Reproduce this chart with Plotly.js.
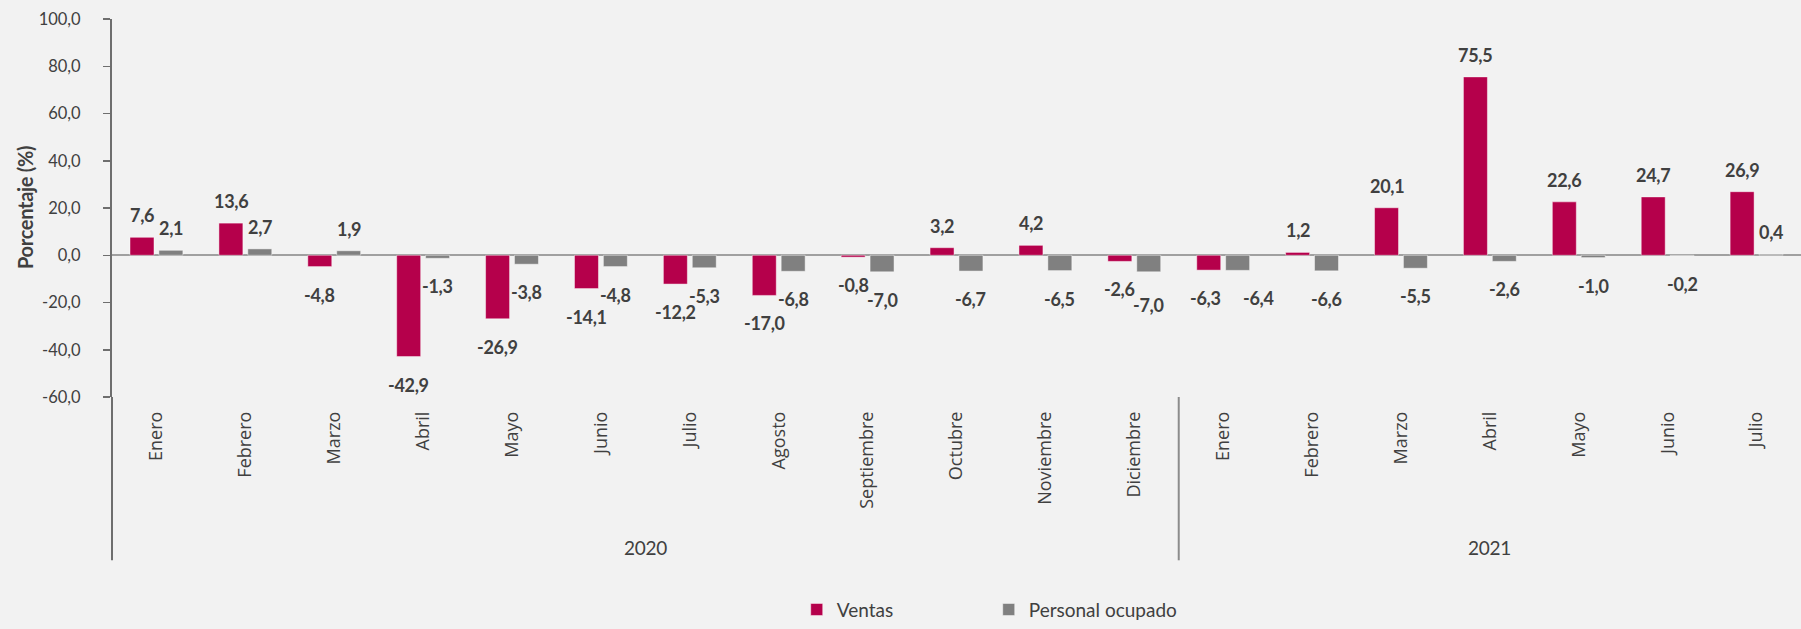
<!DOCTYPE html>
<html>
<head>
<meta charset="utf-8">
<script src="https://cdn.plot.ly/plotly-3.0.1.min.js"></script>
<style>
  html, body { margin: 0; padding: 0; background: #F2F2F2; }
  #chart { width: 1801px; height: 629px; }
  .annotation-text { letter-spacing: -0.3px; }
</style>
</head>
<body>
<div id="chart"></div>
<script>
// ---- data ----
const months = ['Enero','Febrero','Marzo','Abril','Mayo','Junio','Julio','Agosto','Septiembre','Octubre','Noviembre','Diciembre',
                'Enero','Febrero','Marzo','Abril','Mayo','Junio','Julio'];
const years = ['2020','2020','2020','2020','2020','2020','2020','2020','2020','2020','2020','2020',
               '2021','2021','2021','2021','2021','2021','2021'];
const ventas   = [7.6, 13.6, -4.8, -42.9, -26.9, -14.1, -12.2, -17.0, -0.8, 3.2, 4.2, -2.6,
                  -6.3, 1.2, 20.1, 75.5, 22.6, 24.7, 26.9];
const personal = [2.1, 2.7, 1.9, -1.3, -3.8, -4.8, -5.3, -6.8, -7.0, -6.7, -6.5, -7.0,
                  -6.4, -6.6, -5.5, -2.6, -1.0, -0.2, 0.4];
const yTicks = [-60, -40, -20, 0, 20, 40, 60, 80, 100];

// ---- helpers ----
const fmt = v => v.toFixed(1).replace('.', ',');
const idx = months.map((_, i) => i);
const n = months.length;
const BARGAP = 0.35, BARGROUPGAP = 0.17;
const off = (1 - BARGAP) / 4;
const Y_MIN = -60, Y_MAX = 100, PLOT_H = 384;
const pxPerUnit = PLOT_H / (Y_MAX - Y_MIN);

const labelFont = {family: 'Lato, sans-serif', size: 18, color: '#404040', weight: 'bold'};
const annotations = [];
function baseShift(v) { return v >= 0 ? 22 : -28; }
idx.forEach(i => {
  const a = ventas[i], b = personal[i];
  let ax = 0, bx = 0, ay = baseShift(a), by = baseShift(b);
  // keep labels of the same month readable when they would collide
  if ((a >= 0) === (b >= 0)) {
    const d = Math.abs(a - b) * pxPerUnit;
    if (d < 6) { ax = -3; bx = 21; }
    else if (d < 12) {
      if (b >= 0) { if (a > b) ay += 5; else by += 5; }
      else { if (a < b) ay -= 5; else by -= 5; }
    }
  }
  [[a, -off, ax, ay], [b, off, bx, by]].forEach(([v, dx, xs, ys]) => {
    annotations.push({
      x: i + dx, y: v, xref: 'x', yref: 'y',
      text: '<b>' + fmt(v) + '</b>', showarrow: false,
      yanchor: 'middle', xanchor: 'center',
      xshift: xs, yshift: ys, font: labelFont
    });
  });
});

// y axis title
annotations.push({
  x: (25 - 112) / 1689, y: 0.5, xref: 'paper', yref: 'paper',
  text: '<b>Porcentaje (%)</b>', textangle: -90, showarrow: false,
  xanchor: 'center', yanchor: 'middle',
  font: {family: 'Lato, sans-serif', size: 20, color: '#404040'}
});

// year group labels and dividers
const groups = [];
years.forEach((y, i) => {
  if (!groups.length || groups[groups.length - 1].year !== y) groups.push({year: y, start: i, end: i});
  else groups[groups.length - 1].end = i;
});
const shapes = [];
const dividerBottom = -0.432;
groups.forEach((g, k) => {
  annotations.push({
    x: (g.start + g.end) / 2, y: -0.398, xref: 'x', yref: 'paper',
    text: g.year, showarrow: false, yanchor: 'middle', xanchor: 'center',
    font: {family: 'Lato, sans-serif', size: 19, color: '#404040'}
  });
  shapes.push({
    type: 'line', xref: 'paper', yref: 'paper',
    x0: g.start / n, x1: g.start / n, y0: 0, y1: dividerBottom,
    line: {color: k === 0 ? '#6E6E6E' : '#8C8C8C', width: 2}
  });
});

const traces = [
  {
    type: 'bar', name: 'Ventas', x: idx, y: ventas,
    marker: {color: '#B5004B', line: {color: 'rgba(255,255,255,0.45)', width: 1}},
    hoverinfo: 'y'
  },
  {
    type: 'bar', name: 'Personal ocupado', x: idx, y: personal,
    marker: {color: '#808080', line: {color: 'rgba(255,255,255,0.45)', width: 1}},
    hoverinfo: 'y'
  }
];

const layout = {
  width: 1801, height: 629,
  paper_bgcolor: '#F2F2F2', plot_bgcolor: '#F2F2F2',
  margin: {l: 112, r: 0, t: 19, b: 226},
  barmode: 'group', bargap: BARGAP, bargroupgap: BARGROUPGAP,
  font: {family: 'Lato, sans-serif', color: '#404040'},
  xaxis: {
    type: 'linear', range: [-0.5, n - 0.5],
    tickvals: idx, ticktext: months, tickangle: -90,
    tickfont: {family: '"Open Sans", sans-serif', size: 18, color: '#404040'},
    ticks: '', showline: false, showgrid: false, zeroline: false,
    ticklabelstandoff: 10, automargin: false, fixedrange: true
  },
  yaxis: {
    range: [Y_MIN, Y_MAX], tickvals: yTicks, ticktext: yTicks.map(fmt),
    tickfont: {family: 'Lato, sans-serif', size: 16.5, color: '#404040'},
    ticks: 'outside', ticklen: 7, tickwidth: 1.5, tickcolor: '#6E6E6E',
    showline: true, linecolor: '#6E6E6E', linewidth: 2,
    showgrid: false, zeroline: true, zerolinecolor: '#A0A0A0', zerolinewidth: 2,
    ticklabelstandoff: 19, automargin: false, fixedrange: true
  },
  showlegend: true,
  legend: {
    orientation: 'h', x: 0.4054, xanchor: 'left', y: -0.5625, yanchor: 'middle',
    yref: 'paper', bgcolor: 'rgba(0,0,0,0)',
    font: {family: 'Lato, sans-serif', size: 19, color: '#404040'},
    entrywidth: 147, entrywidthmode: 'pixels', traceorder: 'normal'
  },
  annotations: annotations,
  shapes: shapes
};

Plotly.newPlot('chart', traces, layout, {displayModeBar: false, staticPlot: true});
</script>
</body>
</html>
